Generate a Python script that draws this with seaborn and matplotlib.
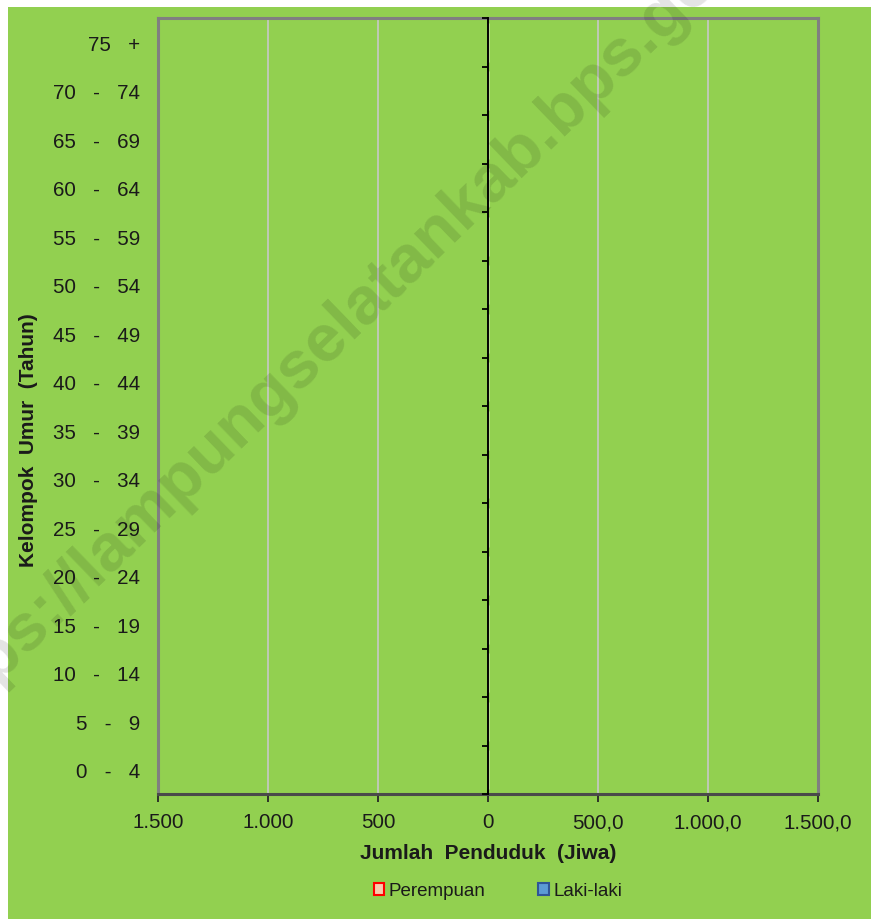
import numpy as np
import pandas as pd
import matplotlib
matplotlib.use("Agg")
import matplotlib.pyplot as plt
import seaborn as sns
from matplotlib.patches import Patch, Rectangle
from matplotlib.ticker import FuncFormatter

# ---- data ----
age_groups = ["0 - 4", "5 - 9", "10 - 14", "15 - 19", "20 - 24", "25 - 29", "30 - 34",
              "35 - 39", "40 - 44", "45 - 49", "50 - 54", "55 - 59", "60 - 64",
              "65 - 69", "70 - 74", "75 +"]
perempuan = [0, 0, 0, 0, 0, 0, 0, 0, 0, 0, 0, 0, 0, 0, 0, 0]
laki_laki = [0, 0, 0, 0, 0, 0, 0, 0, 0, 0, 0, 0, 0, 0, 0, 0]
x_ticks = [-1500, -1000, -500, 0, 500, 1000, 1500]
series_names = ["Perempuan", "Laki-laki"]

W, H = 871, 920
GREEN = "#92D050"

sns.set_style("white")
plt.rcParams["font.family"] = ["Liberation Sans", "DejaVu Sans"]

fig = plt.figure(figsize=(W / 100, H / 100), dpi=100, facecolor="white")
fig.patches.append(Rectangle((8 / W, 0), 1 - 8 / W, 1 - 8 / H, transform=fig.transFigure,
                             facecolor=GREEN, edgecolor="none", zorder=-10))

ax = fig.add_axes([158 / W, 1 - 795 / H, (818 - 158) / W, (795 - 19) / H])
ax.set_facecolor(GREEN)

order = age_groups[::-1]
df = pd.DataFrame({
    "age": age_groups * 2,
    "value": [-v for v in perempuan] + list(laki_laki),
    "sex": [series_names[0]] * len(age_groups) + [series_names[1]] * len(age_groups),
})
sns.barplot(data=df, x="value", y="age", hue="sex", order=order, orient="h",
            palette={"Perempuan": "#F8CBAD", "Laki-laki": "#5B9BD5"},
            dodge=False, legend=False, ax=ax, width=0.8)

ax.set_xlim(x_ticks[0], x_ticks[-1])
ax.set_ylim(len(order) - 0.5, -0.5)
ax.set_xticks(x_ticks)

def fmt(v, pos):
    a = abs(int(round(v)))
    s = f"{a:,}".replace(",", ".")
    if v > 0:
        s += ",0"
    return s

ax.xaxis.set_major_formatter(FuncFormatter(fmt))
ax.tick_params(axis="x", direction="out", length=5.5, width=1.3, color="#262626",
               labelsize=14.8, labelcolor="#1a1a1a", pad=7.5, bottom=True)

ylabels = []
for a in order:
    if "+" in a:
        lo = a.split()[0]
        ylabels.append(f"{lo}   +")
    else:
        lo, hi = a.split(" - ")
        ylabels.append(f"{lo}   -   {hi}")
ax.set_yticks(range(len(order)))
ax.set_yticklabels(ylabels)
ax.tick_params(axis="y", length=0, labelsize=14.8, labelcolor="#1a1a1a", pad=13)
ax.set_xlabel("")
ax.set_ylabel("")

# vertical gridlines only at inner ticks (not at 0)
ax.grid(False)
for xv in x_ticks[1:-1]:
    if xv != 0:
        ax.axvline(xv, color="#C8C8C8", lw=1.2, zorder=0)

for s in ["top", "left", "right"]:
    ax.spines[s].set_color("#808080")
    ax.spines[s].set_linewidth(2.2)
ax.spines["bottom"].set_color("#4a4a4a")
ax.spines["bottom"].set_linewidth(2.2)

# central vertical axis (at x = 0) with category-boundary ticks
ax2 = ax.twinx()
ax2.set_ylim(ax.get_ylim())
ax2.patch.set_visible(False)
for s in ["top", "bottom", "right"]:
    ax2.spines[s].set_visible(False)
ax2.spines["left"].set_position(("data", 0))
ax2.spines["left"].set_color("black")
ax2.spines["left"].set_linewidth(1.4)
ax2.spines["left"].set_visible(True)
ax2.yaxis.set_ticks_position("left")
ax2.set_yticks(np.arange(-0.5, len(order), 1.0))
ax2.set_yticklabels([])
ax2.tick_params(axis="y", which="both", direction="out", length=4.5, width=1.3,
                color="black", left=True, right=False, labelleft=False, labelright=False)
ax2.grid(False)

# axis titles
fig.text(488 / W, 1 - 854 / H, "Jumlah  Penduduk  (Jiwa)", ha="center", va="center",
         fontsize=15, fontweight="bold", color="#1a1a1a")
fig.text(28 / W, 1 - 440 / H, "Kelompok  Umur  (Tahun)", ha="center", va="center",
         rotation=90, fontsize=15, fontweight="bold", color="#1a1a1a")

# legend
handles = [Patch(facecolor="#F8CBAD", edgecolor="#FF0000", lw=1.5, label=series_names[0]),
           Patch(facecolor="#5B9BD5", edgecolor="#2F5597", lw=1.5, label=series_names[1])]
fig.legend(handles=handles, loc="center", bbox_to_anchor=(498 / W, 1 - 892 / H), ncol=2,
           frameon=False, fontsize=13.5, handlelength=0.55, handleheight=0.55,
           handletextpad=0.25, columnspacing=2.8, labelcolor="#1a1a1a")

# watermark
fig.text(343 / W, 1 - 323 / H, "https://lampungselatankab.bps.go.id", ha="center", va="center",
         rotation=44, rotation_mode="anchor", fontsize=48.5, fontweight="bold",
         color="black", alpha=0.11, zorder=100)

fig.savefig("out.png", dpi=100, facecolor="white")
